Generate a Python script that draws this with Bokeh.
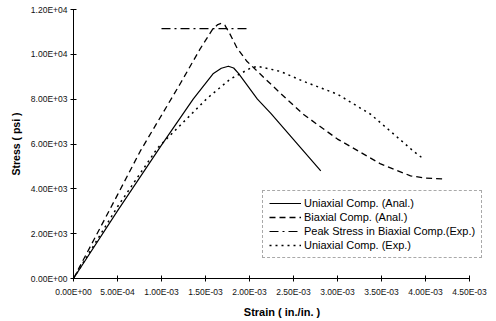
from bokeh.plotting import figure
from bokeh.models import Range1d, FixedTicker, CustomJSTickFormatter, Legend, LegendItem
from bokeh.embed import file_html
from bokeh.resources import INLINE

# ---- data ----
uni_anal_strain = [0, 0.5e-3, 1.0e-3, 1.36e-3, 1.59e-3, 1.68e-3, 1.76e-3, 1.82e-3, 1.875e-3, 2.09e-3, 2.24e-3, 2.81e-3]
uni_anal_stress = [0, 3020, 5950, 8000, 9150, 9380, 9470, 9390, 9150, 8000, 7380, 4800]

biax_strain = [0, 0.5e-3, 0.76e-3, 1.216e-3, 1.443e-3, 1.58e-3, 1.64e-3, 1.68e-3, 1.72e-3, 1.78e-3,
               1.86e-3, 1.97e-3, 2.125e-3, 2.35e-3, 2.61e-3, 3.0e-3, 3.49e-3, 3.83e-3, 4.0e-3, 4.19e-3]
biax_stress = [0, 3730, 5690, 8710, 10270, 11110, 11330, 11380, 11300, 10890,
               10270, 9690, 9110, 8270, 7330, 6220, 5110, 4580, 4480, 4440]

peak_strain = [1.0e-3, 2.0e-3]
peak_stress = [11150, 11150]

uni_exp_strain = [0, 0.5e-3, 0.955e-3, 1.52e-3, 1.78e-3, 2.01e-3, 2.09e-3, 2.35e-3, 2.61e-3, 3.0e-3,
                  3.375e-3, 3.64e-3, 3.86e-3, 3.98e-3]
uni_exp_stress = [0, 3200, 5820, 8040, 8890, 9380, 9470, 9240, 8800, 8220,
                  7330, 6440, 5690, 5330]

x_ticks = [0, 0.5e-3, 1.0e-3, 1.5e-3, 2.0e-3, 2.5e-3, 3.0e-3, 3.5e-3, 4.0e-3, 4.5e-3]
x_tick_labels = ["0.00E+00", "5.00E-04", "1.00E-03", "1.50E-03", "2.00E-03",
                 "2.50E-03", "3.00E-03", "3.50E-03", "4.00E-03", "4.50E-03"]
y_ticks = [0, 2000, 4000, 6000, 8000, 10000, 12000]
y_tick_labels = ["0.00E+00", "2.00E+03", "4.00E+03", "6.00E+03", "8.00E+03", "1.00E+04", "1.20E+04"]

series_labels = ["Uniaxial Comp. (Anal.)", "Biaxial Comp. (Anal.)",
                 "Peak Stress in Biaxial Comp.(Exp.)", "Uniaxial Comp. (Exp.)"]

FONT = "Liberation Sans"

# frame extends a little past the last tick so the legend is not clipped;
# the x axis itself stops at 4.5E-03
p = figure(width=496, height=321, output_backend="svg", toolbar_location=None,
           x_range=Range1d(0, 4.739e-3), y_range=Range1d(0, 12000),
           min_border_left=73, min_border_right=6, min_border_top=9, min_border_bottom=43)
p.outline_line_color = None
p.grid.visible = False
p.background_fill_color = "white"
p.border_fill_color = "white"

fmt_js = """
const i = vals.findIndex(t => Math.abs(t - tick) < 1e-9 * Math.max(1, Math.abs(t)));
return i >= 0 ? labs[i] : '';
"""
p.xaxis.ticker = FixedTicker(ticks=x_ticks)
p.xaxis.formatter = CustomJSTickFormatter(args=dict(vals=x_ticks, labs=x_tick_labels), code=fmt_js)
p.xaxis.bounds = (x_ticks[0], x_ticks[-1])
p.yaxis.ticker = FixedTicker(ticks=y_ticks)
p.yaxis.formatter = CustomJSTickFormatter(args=dict(vals=y_ticks, labs=y_tick_labels), code=fmt_js)

for ax in (p.xaxis[0], p.yaxis[0]):
    ax.axis_line_color = "black"
    ax.axis_line_width = 1
    ax.major_tick_line_color = "black"
    ax.major_tick_in = 3
    ax.major_tick_out = 3
    ax.minor_tick_line_color = None
    ax.major_label_text_font = FONT
    ax.major_label_text_font_size = "8.5px"
    ax.major_label_text_color = "#111111"
    ax.axis_label_text_font = FONT
    ax.axis_label_text_font_style = "bold"
    ax.axis_label_text_color = "black"

p.xaxis.axis_label = "Strain ( in./in. )"
p.xaxis.axis_label_text_font_size = "11px"
p.xaxis.major_label_standoff = 5
p.xaxis.axis_label_standoff = 6
p.yaxis.axis_label = "Stress ( psi )"
p.yaxis.axis_label_text_font_size = "10.5px"
p.yaxis.major_label_standoff = 3
p.yaxis.axis_label_standoff = 6

r1 = p.line(uni_anal_strain, uni_anal_stress, line_color="black", line_width=1.2, line_join="round")
r2 = p.line(biax_strain, biax_stress, line_color="black", line_width=1.3, line_dash="6 4", line_join="round")
r3 = p.line(peak_strain, peak_stress, line_color="black", line_width=1.2, line_dash="9 4 2 4")
r4 = p.line(uni_exp_strain, uni_exp_stress, line_color="black", line_width=1.5, line_dash="2 4")

legend = Legend(items=[LegendItem(label=series_labels[0], renderers=[r1]),
                       LegendItem(label=series_labels[1], renderers=[r2]),
                       LegendItem(label=series_labels[2], renderers=[r3]),
                       LegendItem(label=series_labels[3], renderers=[r4])],
                location=(189, 20))
legend.label_text_font = FONT
legend.label_text_font_size = "11px"
legend.label_text_color = "black"
legend.glyph_width = 32
legend.glyph_height = 12
legend.label_height = 12
legend.label_standoff = 3
legend.spacing = 2
legend.padding = 6
legend.margin = 0
legend.border_line_color = "#555555"
legend.border_line_dash = "3 2"
legend.border_line_width = 1
legend.background_fill_alpha = 1
p.add_layout(legend, "center")

open("out.html", "w").write(file_html(p, INLINE))
